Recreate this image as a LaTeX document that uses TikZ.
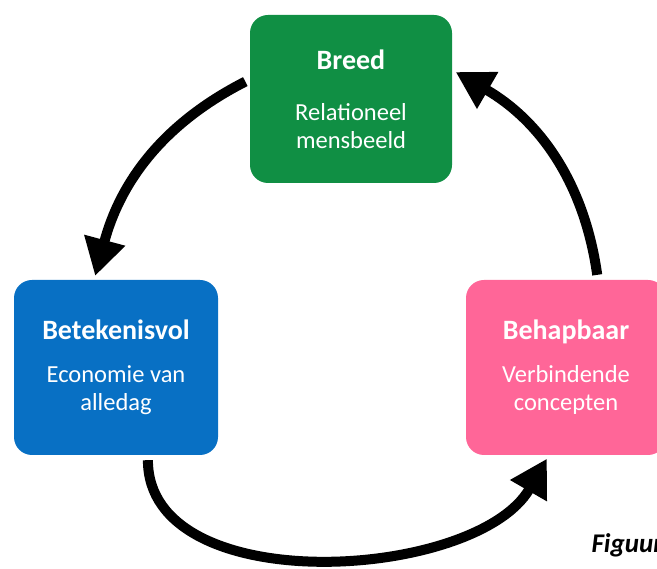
\documentclass[tikz,border=0pt]{standalone}
\usepackage{fontspec}
\setmainfont{Carlito}
\usepackage{tikz}
\usetikzlibrary{%
  positioning,%
  arrows.meta%
}

\definecolor{breedgreen}{RGB}{16,143,68}
\definecolor{betekblue}{RGB}{8,112,196}
\definecolor{behappink}{RGB}{255,102,152}

\tikzset{
	pijler/.style={rounded corners=18pt, minimum width=202pt, minimum height=175pt,
		inner sep=0pt, text=white, align=center, font=\fontsize{24.5}{28}\selectfont},
	kringpijl/.style={line width=10pt, -{Triangle[width=40pt,length=37pt]},
		shorten >=4pt, shorten <=5pt}
}
\newcommand{\kop}[1]{{\fontsize{28}{28}\selectfont\bfseries #1}}

\begin{document}
\begin{tikzpicture}[x=1pt,y=-1pt]
	\useasboundingbox (0,0) rectangle (657,569);
	\clip (0,0) rectangle (657,569);
	%Nodes
	\node[pijler, fill=breedgreen, minimum height=168pt] (breed) at (351,99)
		{\kop{Breed}\\[23pt]Relationeel\\mensbeeld};
	\node[pijler, fill=betekblue, minimum width=204pt] (betek) at (116,367.5)
		{\kop{Betekenisvol}\\[15pt]Economie van\\alledag};
	\node[pijler, fill=behappink, minimum width=200pt] (behap) at (566,367.5)
		{\kop{Behapbaar}\\[15pt]Verbindende\\concepten};
	\node[font=\fontsize{27}{27}\selectfont\bfseries\itshape, anchor=base west] (figuur) at (588,553) {Figuur};
	%Arrows
	\draw[kringpijl] (breed.169) to[out=207,in=75] (betek.104);
	\draw[kringpijl] (behap.70) to[out=98,in=-30] (breed.16);
	\draw[kringpijl] (betek.-70) to[out=-90,in=240,looseness=0.93] (behap.-101);
\end{tikzpicture}
\end{document}
